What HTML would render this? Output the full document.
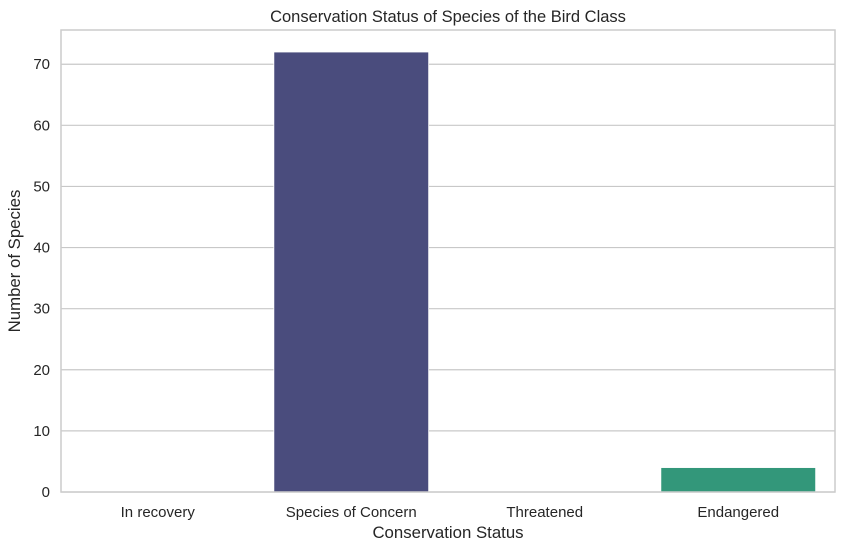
<!DOCTYPE html>
<html><head><meta charset="utf-8"><style>
body{margin:0;background:#fff;font-family:"Liberation Sans","DejaVu Sans",sans-serif;}
svg text{font-family:"Liberation Sans","DejaVu Sans",sans-serif;fill:#262626;}
</style></head><body>
<svg id="chart" width="845" height="550" xmlns="http://www.w3.org/2000/svg">
<rect width="845" height="550" fill="#fff"/>
<g id="grid"></g><g id="bars"></g><g id="axes"></g>
<text x="448" y="22" text-anchor="middle" font-size="16.5">Conservation Status of Species of the Bird Class</text>
<text x="448" y="538" text-anchor="middle" font-size="16.8">Conservation Status</text>
<text transform="translate(20,261) rotate(-90)" text-anchor="middle" font-size="16.8">Number of Species</text>
</svg>
<script>
const categories = ["In recovery","Species of Concern","Threatened","Endangered"];
const values = [0,72,0,4];
const colors = ["#472d7b","#4a4c7d","#2a788e","#33977a"];
const yTicks = [0,10,20,30,40,50,60,70];
const NS="http://www.w3.org/2000/svg";
const L=61,R=835,T=30,B=492,yMax=75.6;
const y=v=>B-(v/yMax)*(B-T);
const band=(R-L)/categories.length;
const x=i=>L+band*i;
function mk(tag,attrs,parent){const e=document.createElementNS(NS,tag);for(const k in attrs)e.setAttribute(k,attrs[k]);parent.appendChild(e);return e;}
const grid=document.getElementById('grid'),bars=document.getElementById('bars'),axes=document.getElementById('axes');
yTicks.forEach(t=>{
  const ln=mk('line',{x1:L,x2:R,y1:y(t),y2:y(t),stroke:'#c8c8c8','stroke-width':1.2},grid);
  
  
  const tx=mk('text',{x:L-11,y:y(t)+5,'text-anchor':'end','font-size':15},axes);
  tx.textContent=t;
  
  
});
categories.forEach((c,i)=>{
  const w=band*0.8,bx=x(i)+band*0.1;
  const r=mk('rect',{x:bx,y:y(values[i]),width:w,height:B-y(values[i]),fill:colors[i],stroke:'#ffffff','stroke-width':values[i]>0?0.8:0},bars);
  
  
  const tx=mk('text',{x:x(i)+band/2,y:B+25,'text-anchor':'middle','font-size':15},axes);
  tx.textContent=c;
  
  
});
const fr=mk('rect',{x:L,y:T,width:R-L,height:B-T,fill:'none',stroke:'#cccccc','stroke-width':1.5},axes);


</script>
</body></html>
